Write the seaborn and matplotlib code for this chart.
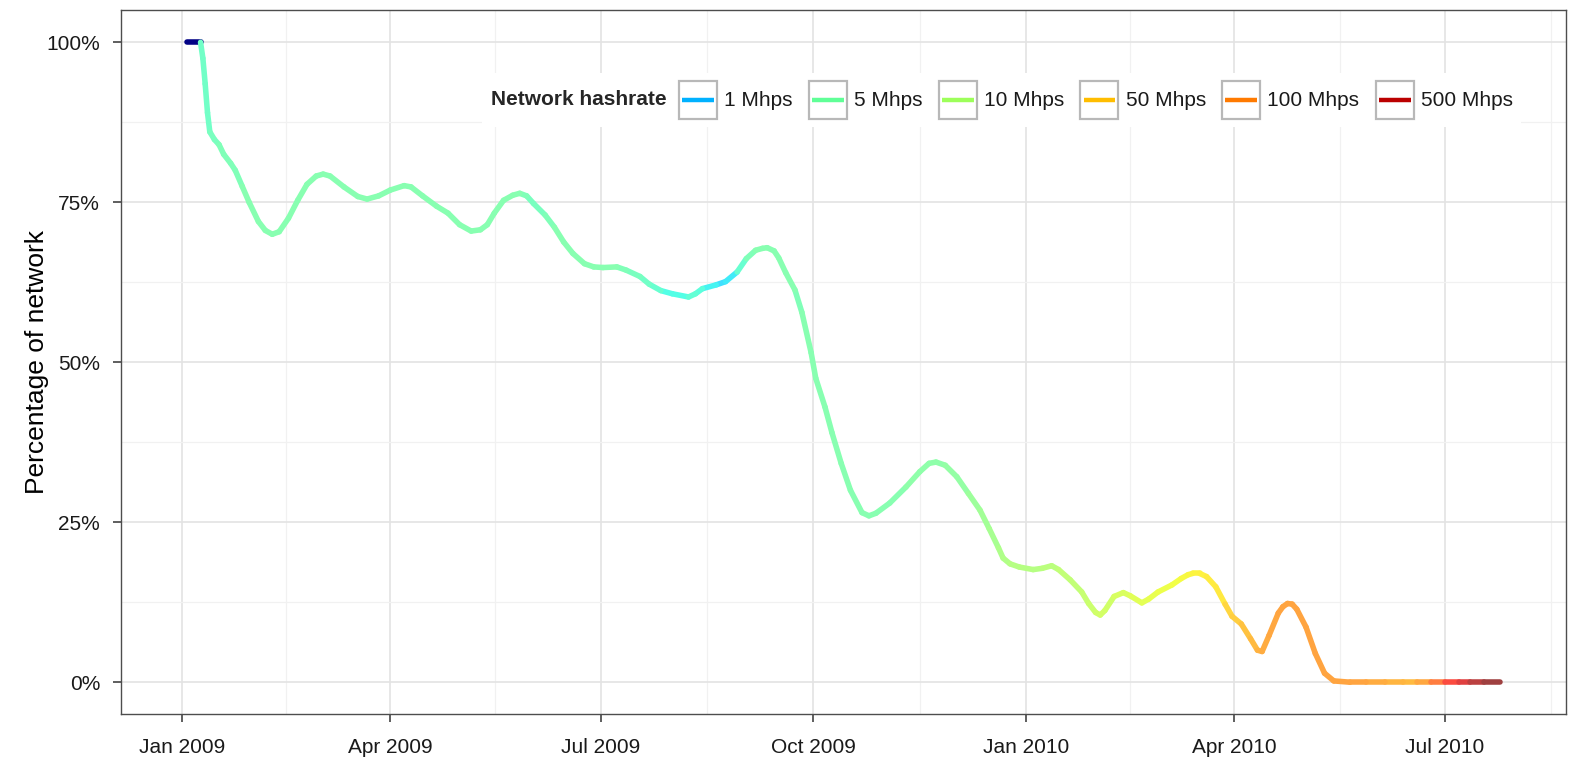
import numpy as np
import pandas as pd
import matplotlib
matplotlib.use("Agg")
import matplotlib.pyplot as plt
import matplotlib.dates as mdates
import seaborn as sns
from matplotlib.colors import LogNorm, ListedColormap
from matplotlib.legend_handler import HandlerBase
from matplotlib.patches import Rectangle
from matplotlib.lines import Line2D
from matplotlib.offsetbox import HPacker
from matplotlib.ticker import FixedLocator

# ---------------- data ----------------
start_date = "2009-01-01"
day_offsets = [2, 8, 9, 10, 11, 12, 14, 16, 18, 21, 23, 26, 29, 33, 36, 39, 42, 46, 50, 54,
               58, 61, 64, 70, 76, 80, 85, 90, 96, 99, 104, 110, 115, 120, 125, 129, 132, 135,
               139, 143, 146, 149, 152, 157, 161, 165, 169, 174, 178, 182, 188, 192, 198, 202,
               207, 212, 219, 222, 225, 231, 235, 240, 244, 248, 251, 253, 256, 258, 261, 265,
               268, 272, 274, 278, 281, 285, 289, 294, 297, 300, 306, 313, 319, 323, 326, 330,
               335, 340, 345, 349, 353, 355, 358, 362, 368, 372, 376, 379, 384, 389, 392, 395,
               397, 399, 403, 407, 410, 415, 418, 422, 428, 432, 435, 437, 440, 443, 447, 451,
               454, 458, 462, 465, 467, 470, 474, 476, 478, 480, 482, 486, 490, 494, 498, 505,
               512, 520, 528, 534, 540, 546, 552, 557, 563, 570]
share_pct = [100, 100, 97.5, 93.5, 89, 86, 84.8, 84, 82.5, 81.1, 80, 77.5, 75, 72, 70.6, 70, 70.4,
             72.5, 75.3, 77.8, 79.1, 79.4, 79.1, 77.4, 75.9, 75.5, 76, 76.9, 77.6, 77.4, 76, 74.4,
             73.3, 71.5, 70.5, 70.7, 71.5, 73.3, 75.3, 76.1, 76.4, 76, 74.8, 73, 71.1, 68.8, 67,
             65.4, 64.9, 64.8, 64.9, 64.4, 63.4, 62.2, 61.2, 60.7, 60.2, 60.7, 61.5, 62.1, 62.6,
             64.1, 66.2, 67.5, 67.8, 67.9, 67.4, 66.3, 64, 61.3, 57.8, 51.5, 47.5, 43, 39, 34.2,
             30, 26.5, 26, 26.4, 28, 30.5, 32.9, 34.2, 34.4, 33.9, 32.1, 29.5, 26.9, 24, 21,
             19.4, 18.5, 18, 17.6, 17.8, 18.2, 17.6, 16, 14.1, 12.3, 10.9, 10.5, 11.2, 13.4, 14,
             13.5, 12.4, 13, 14.1, 15.2, 16.2, 16.8, 17, 17, 16.5, 14.9, 12.2, 10.3, 9.1, 6.8, 5,
             4.8, 7.3, 10.8, 11.8, 12.3, 12.2, 11.4, 8.6, 4.5, 1.4, 0.2, 0, 0, 0, 0, 0, 0, 0, 0,
             0, 0, 0]
hashrate_mhps = [0.06, 3.5, 3.5, 3.5, 3.5, 4, 4, 4.5, 4.5, 4.5, 4.5, 5, 5, 5, 5, 5, 5, 5, 5, 5,
                 5, 5, 5, 5, 5, 5, 5, 5, 5, 5, 5, 5, 5, 5, 5, 5, 5, 5, 5, 5, 4.5, 4, 4, 4.5,
                 5, 5, 5, 5, 5, 5, 4.5, 4, 3.5, 3, 2.2, 2.2, 2.8, 2.5, 1.8, 1.4, 1.6, 3, 4.5,
                 5, 5, 5, 5, 5, 5, 4.5, 5, 5, 5, 5, 5, 5, 5, 5, 5, 5, 5, 5.5, 5.5, 5.5, 5.5, 6,
                 6, 7, 7.5, 8, 9, 9.5, 10, 10, 10, 11, 11, 12, 12, 13, 14, 15, 16, 15, 17, 18,
                 20, 21, 22, 24, 26, 28, 29, 30, 31, 33, 35, 45, 50, 58, 65, 75, 80, 85, 90, 90,
                 90, 90, 90, 90, 90, 90, 90, 90, 80, 70, 65, 85, 150, 300, 400, 600, 800, 800]

legend_rates = [1, 5, 10, 50, 100, 500]
legend_labels = ["1 Mhps", "5 Mhps", "10 Mhps", "50 Mhps", "100 Mhps", "500 Mhps"]
y_ticks = [0, 25, 50, 75, 100]
y_tick_labels = ["0%", "25%", "50%", "75%", "100%"]
x_tick_dates = ["2009-01-01", "2009-04-01", "2009-07-01", "2009-10-01",
                "2010-01-01", "2010-04-01", "2010-07-01"]

# ---------------- build segment table ----------------
dates = pd.Timestamp(start_date) + pd.to_timedelta(day_offsets, unit="D")
rows = []
for i in range(len(dates) - 1):
    rows.append({"seg": i, "date": dates[i], "pct": share_pct[i], "rate": hashrate_mhps[i]})
    rows.append({"seg": i, "date": dates[i + 1], "pct": share_pct[i + 1], "rate": hashrate_mhps[i]})
seg_df = pd.DataFrame(rows)

# ---------------- style ----------------
sns.set_theme(style="white")
plt.rcParams["font.family"] = ["Liberation Sans", "DejaVu Sans"]

norm = LogNorm(vmin=0.056, vmax=830)
jet = plt.get_cmap("jet")
pos = np.linspace(0, 1, 256)
jet_vals = jet(pos)[:, :3]
opac = 0.75 + 0.25 * np.clip(1 - pos / 0.12, 0, 1)
line_cmap = ListedColormap(jet_vals * opac[:, None] + (1 - opac[:, None]))

fig, ax = plt.subplots(figsize=(15.8, 7.59), dpi=100)
fig.subplots_adjust(left=121 / 1580, right=1566 / 1580, top=1 - 10.3 / 759, bottom=1 - 714.2 / 759)

sns.lineplot(data=seg_df, x="date", y="pct", hue="rate", units="seg", estimator=None,
             palette=line_cmap, hue_norm=norm, linewidth=4.0, legend=False, sort=False, ax=ax)
for ln in ax.lines:
    ln.set_solid_capstyle("round")
    ln.set_solid_joinstyle("round")

# axes limits / ticks
span = dates.max() - dates.min()
ax.set_xlim(dates.min() - span * 0.05, dates.max() + span * 0.05)
ax.set_ylim(-5, 105)

xt = pd.to_datetime(x_tick_dates)
ax.xaxis.set_major_locator(FixedLocator(mdates.date2num(xt)))
ax.xaxis.set_major_formatter(mdates.DateFormatter("%b %Y"))
quarters = pd.date_range("2008-10-01", "2010-10-01", freq="QS")
mids = quarters[:-1] + (quarters[1:] - quarters[:-1]) / 2
ax.xaxis.set_minor_locator(FixedLocator(mdates.date2num(mids)))

ax.set_yticks(y_ticks)
ax.set_yticklabels(y_tick_labels)
ax.set_yticks([12.5, 37.5, 62.5, 87.5], minor=True)

ax.grid(which="major", color="#E3E3E3", linewidth=1.2)
ax.grid(which="minor", color="#F1F1F1", linewidth=0.9)
ax.set_axisbelow(True)
for sp in ax.spines.values():
    sp.set_color("#4D4D4D")
    sp.set_linewidth(1.0)

ax.tick_params(axis="both", which="major", length=6, width=1.1, color="#333333",
               labelsize=15, labelcolor="#1A1A1A", direction="out")
ax.tick_params(axis="x", which="major", pad=11)
ax.tick_params(axis="y", which="major", pad=9)
ax.tick_params(which="minor", length=0)
ax.tick_params(left=True, bottom=True)

ax.set_xlabel("")
ax.set_ylabel("Percentage of network", fontsize=19, color="#000000", labelpad=-2)


# ---------------- legend ----------------
class KeyHandler(HandlerBase):
    def create_artists(self, legend, orig_handle, xdescent, ydescent, width, height, fontsize, trans):
        box = Rectangle((-xdescent, -ydescent), width, height, facecolor="white",
                        edgecolor="#B8B8B8", linewidth=1.6, transform=trans)
        y = -ydescent + height / 2
        line = Line2D([-xdescent + width * 0.08, -xdescent + width * 0.92], [y, y],
                      color=orig_handle.get_color(), linewidth=3.2, transform=trans,
                      solid_capstyle="butt")
        return [box, line]


handles = [Line2D([], [], color=jet(norm(r))) for r in legend_rates]
leg = ax.legend(handles, legend_labels, handler_map={Line2D: KeyHandler()}, ncol=6,
                loc="center right", bbox_to_anchor=(0.969, 0.8726), borderaxespad=0,
                title="Network hashrate", fontsize=15,
                title_fontproperties={"weight": "bold", "size": 15},
                handlelength=1.82, handleheight=2.4, handletextpad=0.35, columnspacing=0.78,
                frameon=True, facecolor="white", edgecolor="none", framealpha=1.0,
                borderpad=0.4, fancybox=False)
for t in leg.get_texts():
    t.set_color("#1A1A1A")

# place legend title to the left of the keys
box = leg._legend_box
kids = box.get_children()
title_box, handle_box = kids[0], kids[1]
box._children = [HPacker(pad=0, sep=9, children=[title_box, handle_box], align="center")]

fig.savefig("out.png", dpi=100)
